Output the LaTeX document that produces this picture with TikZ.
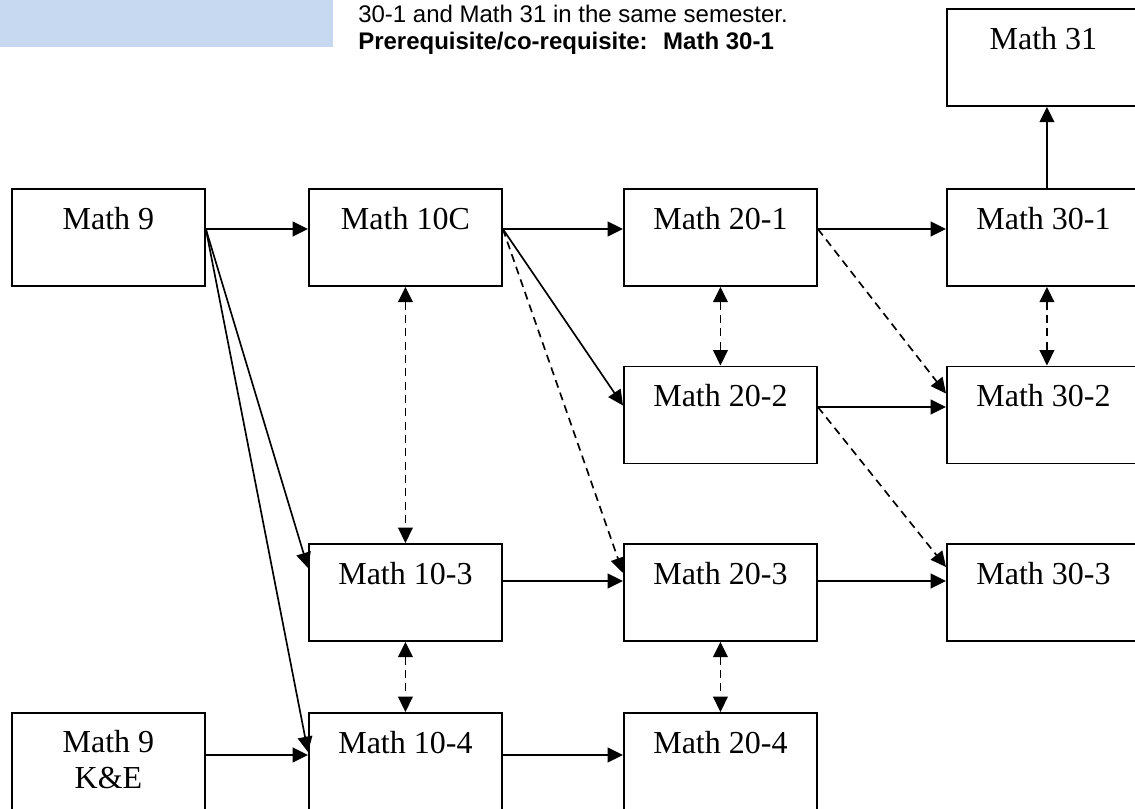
\documentclass[tikz,border=0pt]{standalone}
\usepackage{fontspec}
\setmainfont{Liberation Serif}
\newfontfamily\arialfont{Liberation Sans}
\usetikzlibrary{arrows.meta,calc}
\definecolor{hdrblue}{HTML}{C6D9F1}
\begin{document}
\begin{tikzpicture}[x=0.75pt,y=-0.75pt,
  box/.style={draw, line width=1.4pt, minimum width=144.75pt, minimum height=72.75pt, inner sep=0pt, anchor=north west},
  lowbox/.style={box, minimum height=76pt},
  lbl/.style={inner sep=0pt, anchor=base, font=\fontsize{24}{27.6}\selectfont},
  note/.style={inner sep=0pt, anchor=base west, font=\arialfont\fontsize{18}{20.7}\selectfont},
  arr/.style={line width=1.25pt, -{Triangle[length=11.5pt,width=11pt]}},
  darr/.style={arr, dash pattern=on 6pt off 4pt},
  dbl/.style={line width=1.25pt, dash pattern=on 6pt off 4pt, {Triangle[length=11.5pt,width=11pt]}-{Triangle[length=11.5pt,width=11pt]}}
]
\useasboundingbox (0,0) rectangle (1135,808);
\clip (0,0) rectangle (1135,808);

% header
\fill[hdrblue] (0,0) rectangle (333,47);
\node[note] (n1) at (358,22) {30-1 and Math 31 in the same semester.};
\node[note, font=\arialfont\bfseries\fontsize{18}{20.7}\selectfont] (n2) at (358,49) {Prerequisite/co-requisite:~ Math 30-1};

% boxes
\node[box] (m9)   at (11,188) {};
\node[box] (m10c) at (308,188) {};
\node[box] (m201) at (623,188) {};
\node[box] (m301) at (946,188) {};
\node[box] (m31)  at (946,8) {};
\node[box] (m202) at (623,365.5) {};
\node[box] (m302) at (946,365.5) {};
\node[box] (m103) at (308,543) {};
\node[box] (m203) at (623,543) {};
\node[box] (m303) at (946,543) {};
\node[lowbox] (m9ke) at (11,712) {};
\node[lowbox] (m104) at (308,712) {};
\node[lowbox] (m204) at (623,712) {};

% labels
\node[lbl] (t9)   at ($(m9.north)+(0,41)$) {Math 9};
\node[lbl] (t10c) at ($(m10c.north)+(0,41)$) {Math 10C};
\node[lbl] (t201) at ($(m201.north)+(0,41)$) {Math 20-1};
\node[lbl] (t301) at ($(m301.north)+(0,41)$) {Math 30-1};
\node[lbl] (t31)  at ($(m31.north)+(0,41)$) {Math 31};
\node[lbl] (t202) at ($(m202.north)+(0,41)$) {Math 20-2};
\node[lbl] (t302) at ($(m302.north)+(0,41)$) {Math 30-2};
\node[lbl] (t103) at ($(m103.north)+(0,41)$) {Math 10-3};
\node[lbl] (t203) at ($(m203.north)+(0,41)$) {Math 20-3};
\node[lbl] (t303) at ($(m303.north)+(0,41)$) {Math 30-3};
\node[lbl] (t9a)  at ($(m9ke.north)+(0,40)$) {Math 9};
\node[lbl] (t9b)  at ($(m9ke.north)+(0,76)$) {K\&E};
\node[lbl] (t104) at ($(m104.north)+(0,41)$) {Math 10-4};
\node[lbl] (t204) at ($(m204.north)+(0,41)$) {Math 20-4};

% solid connectors
\draw[arr] ($(m9.north east)+(0,41)$) -- ($(m10c.north west)+(0,41)$);
\draw[arr] ($(m9.north east)+(0,41)$) -- ($(m103.north west)+(0,25)$);
\draw[arr] ($(m9.north east)+(0,41)$) -- ($(m104.north west)+(0,40)$);
\draw[arr] ($(m9ke.north east)+(0,43)$) -- ($(m104.north west)+(0,43)$);
\draw[arr] ($(m10c.north east)+(0,41)$) -- ($(m201.north west)+(0,41)$);
\draw[arr] ($(m10c.north east)+(0,41)$) -- ($(m202.north west)+(0,40)$);
\draw[arr] ($(m103.north east)+(0,38)$) -- ($(m203.north west)+(0,38)$);
\draw[arr] ($(m104.north east)+(0,43)$) -- ($(m204.north west)+(0,43)$);
\draw[arr] ($(m201.north east)+(0,41)$) -- ($(m301.north west)+(0,41)$);
\draw[arr] ($(m202.north east)+(0,41.5)$) -- ($(m302.north west)+(0,41.5)$);
\draw[arr] ($(m203.north east)+(0,38)$) -- ($(m303.north west)+(0,38)$);
\draw[arr] ($(m301.north)+(3.5,0)$) -- ($(m31.south)+(3.5,0)$);

% dashed connectors
\draw[darr] ($(m10c.north east)+(0,41)$) -- ($(m203.north west)+(0,30)$);
\draw[darr] ($(m201.north east)+(0,41)$) -- ($(m302.north west)+(0,28)$);
\draw[darr] ($(m202.north east)+(0,41.5)$) -- ($(m303.north west)+(0,24)$);

% dashed double arrows
\draw[dbl] (m10c.south) -- (m103.north);
\draw[dbl] (m103.south) -- (m104.north);
\draw[dbl] (m201.south) -- (m202.north);
\draw[dbl] (m203.south) -- (m204.north);
\draw[dbl] ($(m301.south)+(3.5,0)$) -- ($(m302.north)+(3.5,0)$);
\end{tikzpicture}
\end{document}
